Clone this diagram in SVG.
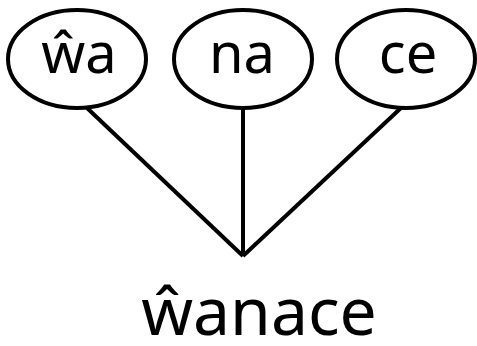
<svg xmlns="http://www.w3.org/2000/svg" width="477" height="346" viewBox="0 0 477 346">
<style>
.n{fill:#fff;stroke:#000;stroke-width:4}
.t{font-family:"Noto Sans",sans-serif;font-size:56px;fill:#000;text-anchor:middle}
.c{stroke:#000;stroke-width:4;fill:none}
</style>
<rect width="477" height="346" fill="#fff"/>
<g id="connectors">
<line class="c" x1="86" y1="107" x2="243" y2="256"/>
<line class="c" x1="243" y1="108" x2="243" y2="256"/>
<line class="c" x1="402" y1="107" x2="243" y2="256"/>
</g>
<g id="n1"><ellipse class="n" cx="77" cy="59" rx="69" ry="49"/><text class="t" x="79" y="73">ŵa</text></g>
<g id="n2"><ellipse class="n" cx="243" cy="59" rx="69" ry="49"/><text class="t" x="242" y="73">na</text></g>
<g id="n3"><ellipse class="n" cx="406" cy="59" rx="69" ry="49"/><text class="t" x="408" y="73">ce</text></g>
<g id="n4"><text class="t" x="259" y="335" style="font-size:66px">ŵanace</text></g>
</svg>
